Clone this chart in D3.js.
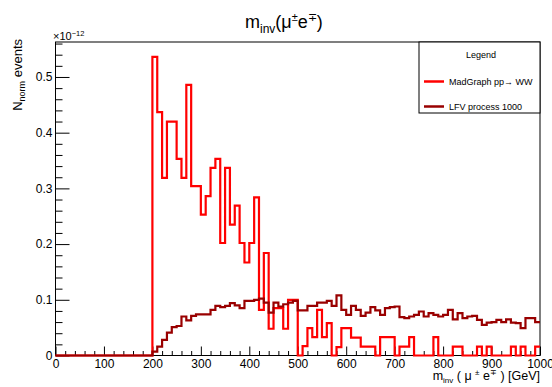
<!DOCTYPE html>
<html>
<head>
<meta charset="utf-8">
<script src="https://cdnjs.cloudflare.com/ajax/libs/d3/7.8.5/d3.min.js"></script>
<style>
  body { margin: 0; background: #fff; }
  text { font-family: "Liberation Sans", Arial, Helvetica, sans-serif; }
</style>
</head>
<body>
<div class="container"></div>
<script>
// histogram contents, units of 1e-12, 100 bins of 10 GeV from 0 to 1000
var binWidth = 10;
var madgraph = [
  0, 0, 0, 0, 0, 0, 0, 0, 0, 0,
  0, 0, 0, 0, 0, 0, 0, 0, 0, 0,
  0.536, 0.437, 0.319, 0.42, 0.42, 0.353, 0.319, 0.486, 0.304, 0.304,
  0.253, 0.286, 0.337, 0.353, 0.202, 0.337, 0.235, 0.269, 0.202, 0.167,
  0.202, 0.284, 0.082, 0.184, 0.048, 0.085, 0.085, 0.048, 0.1, 0.1,
  0, 0.017, 0.049, 0.033, 0.082, 0.033, 0.058, 0, 0.015, 0.049,
  0.049, 0.032, 0.032, 0.016, 0.016, 0.016, 0, 0.033, 0.033, 0.033,
  0, 0.016, 0.016, 0.033, 0, 0, 0, 0, 0.033, 0,
  0, 0, 0.016, 0.016, 0, 0, 0, 0.016, 0, 0.016,
  0, 0, 0, 0, 0.016, 0, 0.016, 0, 0, 0.016
];
var lfv = [
  0, 0, 0, 0, 0, 0, 0, 0, 0, 0,
  0, 0, 0, 0, 0, 0, 0, 0, 0, 0,
  0.007, 0.016, 0.028, 0.041, 0.051, 0.053, 0.07, 0.063, 0.071, 0.074,
  0.074, 0.074, 0.082, 0.089, 0.087, 0.089, 0.094, 0.09, 0.085, 0.098,
  0.098, 0.1, 0.102, 0.095, 0.077, 0.095, 0.088, 0.092, 0.095, 0.098,
  0.081, 0.081, 0.089, 0.089, 0.095, 0.095, 0.098, 0.089, 0.108, 0.082,
  0.073, 0.089, 0.082, 0.071, 0.077, 0.087, 0.081, 0.073, 0.085, 0.087,
  0.088, 0.069, 0.067, 0.07, 0.073, 0.079, 0.07, 0.076, 0.073, 0.07,
  0.073, 0.082, 0.065, 0.076, 0.067, 0.07, 0.071, 0.064, 0.055, 0.059,
  0.06, 0.064, 0.06, 0.065, 0.059, 0.058, 0.049, 0.067, 0.067, 0.06
];
var xTicks = [0, 100, 200, 300, 400, 500, 600, 700, 800, 900, 1000];
var yTicks = [0, 0.1, 0.2, 0.3, 0.4, 0.5];
var legendLabels = ["MadGraph pp\u2192 WW", "LFV process 1000"];
var colors = ["#ff0000", "#990000"];

var W = 552, H = 387;
var frame = { left: 55.5, right: 540, top: 42, bottom: 355.5 };

var svg = d3
  .select(".container")
  .append("svg")
  .attr("width", W)
  .attr("height", H);

var x = d3.scaleLinear().domain([0, 1000]).range([frame.left, frame.right]);
var y = d3.scaleLinear().domain([0, 0.5628]).range([frame.bottom, frame.top]);

// frame
svg
  .append("rect")
  .attr("x", frame.left)
  .attr("y", frame.top)
  .attr("width", frame.right - frame.left)
  .attr("height", frame.bottom - frame.top)
  .attr("fill", "none")
  .attr("stroke", "#000")
  .attr("stroke-width", 1);

// x axis, ticks pointing inside
var xMinor = d3.range(0, 1001, 20).filter(function (d) {
  return d % 100 !== 0;
});
svg
  .append("g")
  .attr("transform", `translate(0,${frame.bottom})`)
  .call(d3.axisBottom(x).tickValues(xTicks).tickSizeInner(-9).tickSizeOuter(0).tickPadding(4).tickFormat(d3.format("d")));
svg
  .append("g")
  .attr("transform", `translate(0,${frame.bottom})`)
  .call(d3.axisBottom(x).tickValues(xMinor).tickSizeInner(-4.5).tickSizeOuter(0).tickFormat(""));

var yMinor = d3.range(0, 0.5628, 0.02).filter(function (d) {
  return Math.abs(d * 10 - Math.round(d * 10)) > 1e-6;
});
svg
  .append("g")
  .attr("transform", `translate(${frame.left},0)`)
  .call(d3.axisLeft(y).tickValues(yTicks).tickSizeInner(-14).tickSizeOuter(0).tickPadding(3)
    .tickFormat(function (d) { return d === 0 ? "0" : d3.format(".1f")(d); }));
svg
  .append("g")
  .attr("transform", `translate(${frame.left},0)`)
  .call(d3.axisLeft(y).tickValues(yMinor).tickSizeInner(-7).tickSizeOuter(0).tickFormat(""));

svg.selectAll(".domain").remove();
svg.selectAll(".tick line").attr("stroke", "#000");
svg.selectAll(".tick text")
  .attr("fill", "#000")
  .style("font-size", "12px")
  .style("font-family", '"Liberation Sans", Arial, sans-serif');

// histograms as steps
function steps(values) {
  var pts = values.map(function (v, i) {
    return { lo: i * binWidth, v: v };
  });
  pts.push({ lo: values.length * binWidth, v: values[values.length - 1] });
  return pts;
}
var line = d3
  .line()
  .curve(d3.curveStepAfter)
  .x(function (d) { return x(d.lo); })
  .y(function (d) { return y(d.v); });

[madgraph, lfv].forEach(function (h, k) {
  svg
    .append("path")
    .datum(steps(h))
    .attr("d", line)
    .attr("fill", "none")
    .attr("stroke", colors[k])
    .attr("stroke-width", 2.2);
});

// exponent
var ex = svg.append("text").attr("x", 53).attr("y", 40).style("font-size", "11px").text("\u00d710");
ex.append("tspan").attr("dy", -4.5).style("font-size", "7.5px").text("\u221212");

// title
var t = svg.append("text").attr("x", 245).attr("y", 28).style("font-size", "18px").text("m");
t.append("tspan").attr("dy", 5).style("font-size", "12px").text("inv");
t.append("tspan").attr("dy", -5).text("(\u03bc");
t.append("tspan").attr("dy", -7).style("font-size", "11px").text("\u00b1");
t.append("tspan").attr("dy", 7).text("e");
t.append("tspan").attr("dy", -7).style("font-size", "11px").text("\u2213");
t.append("tspan").attr("dy", 7).text(")");

// y title
var yt = svg
  .append("text")
  .attr("transform", "translate(22,39) rotate(-90)")
  .attr("text-anchor", "end")
  .style("font-size", "13px")
  .text("N");
yt.append("tspan").attr("dy", 3).style("font-size", "9px").text("norm");
yt.append("tspan").attr("dy", -3).text(" events");

// x title
var xt = svg
  .append("text")
  .attr("x", 540)
  .attr("y", 380)
  .attr("text-anchor", "end")
  .style("font-size", "12.5px")
  .text("m");
xt.append("tspan").attr("dy", 3).style("font-size", "8px").text("inv");
xt.append("tspan").attr("dy", -3).text(" ( \u03bc ");
xt.append("tspan").attr("dy", -5).style("font-size", "8px").text("\u00b1");
xt.append("tspan").attr("dy", 5).text(" e");
xt.append("tspan").attr("dy", -5).style("font-size", "8px").text("\u2213");
xt.append("tspan").attr("dy", 5).text(" ) [GeV]");

// legend
var lg = svg.append("g");
lg.append("rect")
  .attr("x", 419)
  .attr("y", frame.top)
  .attr("width", frame.right - 419)
  .attr("height", 71)
  .attr("fill", "#fff")
  .attr("stroke", "#000")
  .attr("stroke-width", 1);
lg.append("text")
  .attr("x", 481)
  .attr("y", 58)
  .attr("text-anchor", "middle")
  .style("font-size", "9px")
  .text("Legend");
legendLabels.forEach(function (name, k) {
  var ly = 81.5 + k * 25;
  lg.append("line")
    .attr("x1", 424)
    .attr("x2", 444)
    .attr("y1", ly)
    .attr("y2", ly)
    .attr("stroke", colors[k])
    .attr("stroke-width", 2.5);
  lg.append("text")
    .attr("x", 449)
    .attr("y", ly + 3)
    .style("font-size", "9px")
    .text(name);
});
</script>
</body>
</html>
